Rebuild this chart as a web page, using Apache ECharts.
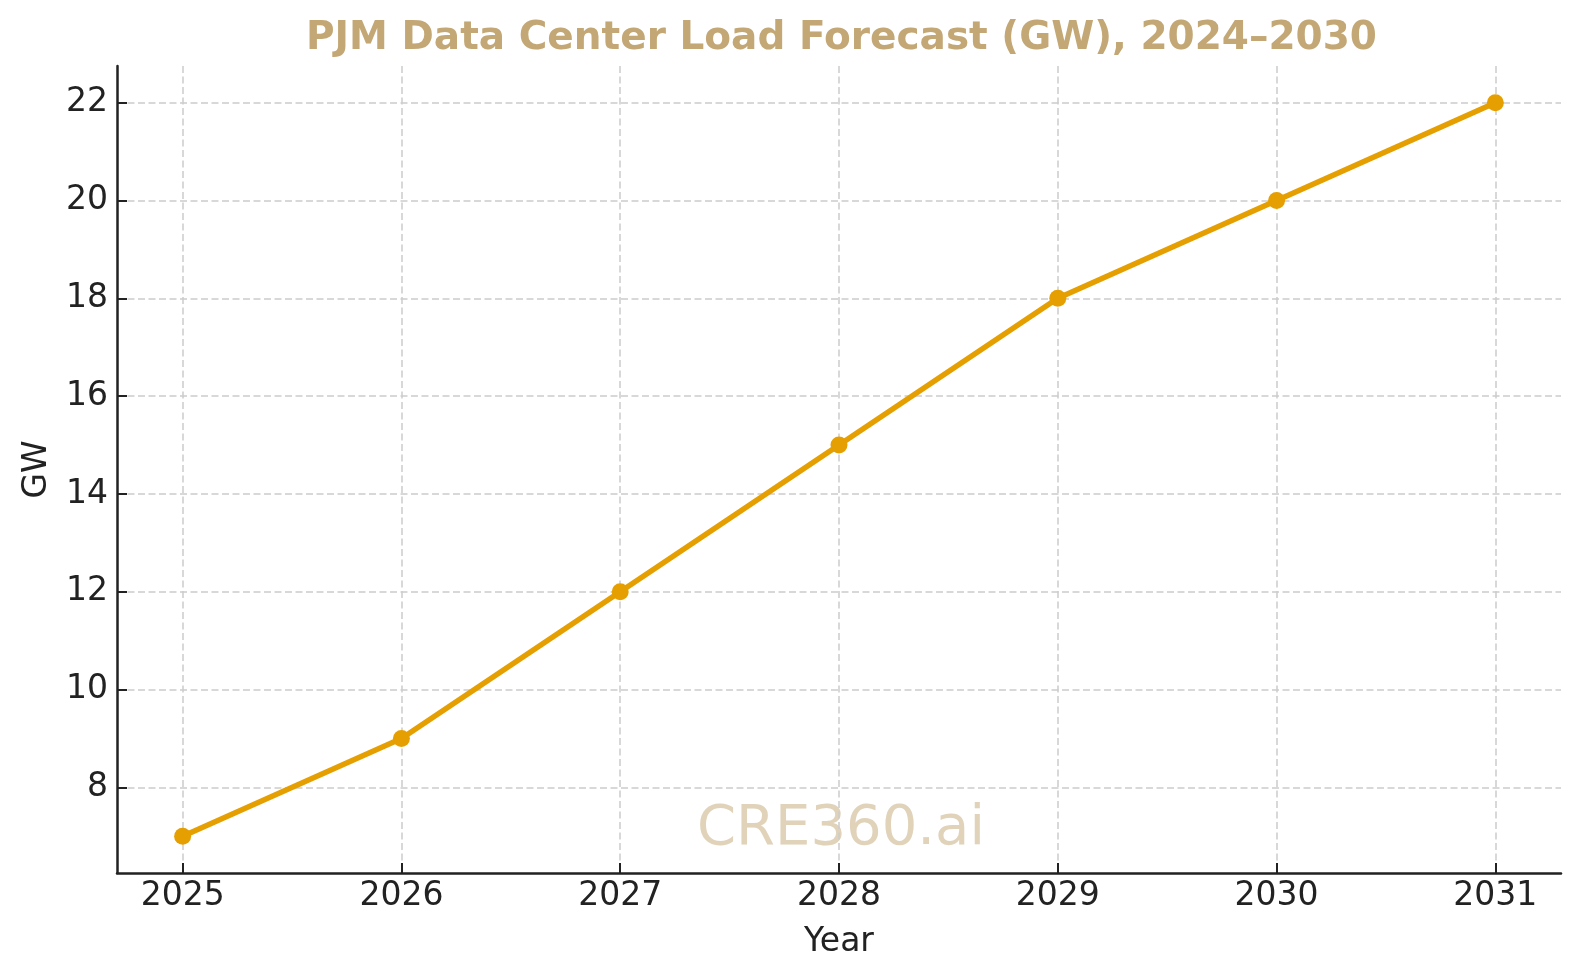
<!DOCTYPE html>
<html>
<head>
<meta charset="utf-8">
<title>PJM Data Center Load Forecast</title>
<script src="https://cdn.jsdelivr.net/npm/echarts@6/dist/echarts.min.js"></script>
<style>
  html, body { margin: 0; padding: 0; background: #fff; }
  #chart { width: 1580px; height: 980px; }
</style>
</head>
<body>
<div id="chart"></div>
<script>
// chart data
const years = [2025, 2026, 2027, 2028, 2029, 2030, 2031];
const loadGW = [7, 9, 12, 15, 18, 20, 22];

const font = 'DejaVu Sans';
const ink = '#222222';

let chart = echarts.init(document.getElementById('chart'), null, { renderer: 'canvas' });

let option = {
  animation: false,
  backgroundColor: '#ffffff',
  title: {
    text: 'PJM Data Center Load Forecast (GW), 2024–2030',
    left: 301,
    top: 14,
    textStyle: {
      fontFamily: font,
      fontSize: 39,
      fontWeight: 'bold',
      color: '#C3A775'
    }
  },
  graphic: [{
    type: 'text',
    z: -10,
    left: 697,
    top: 801,
    style: {
      text: 'CRE360.ai',
      font: '56px "DejaVu Sans"',
      fill: '#E0D3BA'
    }
  }],
  grid: {
    left: 117,
    right: 19,
    top: 66,
    bottom: 107
  },
  xAxis: {
    type: 'value',
    min: 2024.7,
    max: 2031.3,
    splitNumber: 6,
    name: 'Year',
    nameLocation: 'middle',
    nameGap: 53,
    nameTextStyle: { fontFamily: font, fontSize: 33, color: ink },
    axisLine: { show: true, lineStyle: { color: ink, width: 2.5 } },
    axisTick: { show: true, inside: true, length: 10, lineStyle: { color: ink, width: 2 } },
    axisLabel: {
      fontFamily: font,
      fontSize: 33,
      color: ink,
      margin: 7,
      showMinLabel: false,
      showMaxLabel: false,
      formatter: function (v) { return Number.isInteger(v) ? String(v) : ''; }
    },
    splitLine: {
      show: true,
      showMinLine: false,
      showMaxLine: false,
      lineStyle: { color: '#cccccc', width: 1.5, type: [7, 3.5] }
    }
  },
  yAxis: {
    type: 'value',
    min: 6.25,
    max: 22.75,
    splitNumber: 8,
    name: 'GW',
    nameLocation: 'middle',
    nameGap: 63,
    nameTextStyle: { fontFamily: font, fontSize: 33, color: ink },
    axisLine: { show: true, lineStyle: { color: ink, width: 2.5 } },
    axisTick: { show: true, inside: true, length: 10, lineStyle: { color: ink, width: 2 } },
    axisLabel: {
      fontFamily: font,
      fontSize: 33,
      color: ink,
      margin: 9,
      showMinLabel: false,
      showMaxLabel: false,
      formatter: function (v) { return Number.isInteger(v) ? String(v) : ''; }
    },
    splitLine: {
      show: true,
      showMinLine: false,
      showMaxLine: false,
      lineStyle: { color: '#cccccc', width: 1.5, type: [7, 3.5] }
    }
  },
  series: [{
    name: 'Load',
    type: 'line',
    data: years.map(function (y, i) { return [y, loadGW[i]]; }),
    symbol: 'circle',
    symbolSize: 17,
    itemStyle: { color: '#E69F00' },
    lineStyle: { color: '#E69F00', width: 5.5 },
    z: 3
  }]
};

chart.setOption(option);
</script>
</body>
</html>
